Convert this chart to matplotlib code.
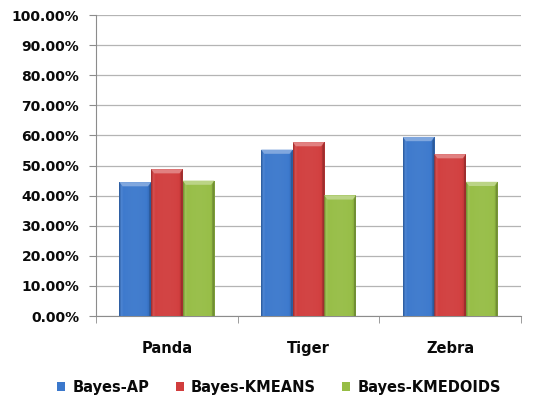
import numpy as np
import matplotlib
matplotlib.use("Agg")
import matplotlib.pyplot as plt
from matplotlib.colors import to_rgb
from matplotlib.patches import Polygon, Patch
from matplotlib.ticker import FixedLocator

categories = ["Panda", "Tiger", "Zebra"]
series_names = ["Bayes-AP", "Bayes-KMEANS", "Bayes-KMEDOIDS"]
bayes_ap = [44.5, 55.3, 59.5]
bayes_kmeans = [48.8, 57.8, 53.8]
bayes_kmedoids = [45.0, 40.1, 44.6]
y_ticks = [0, 10, 20, 30, 40, 50, 60, 70, 80, 90, 100]

series_values = [bayes_ap, bayes_kmeans, bayes_kmedoids]
colors = ["#3b78cc", "#d13d3d", "#96bd45"]

fig = plt.figure(figsize=(5.41, 3.97), dpi=100)
ax = fig.add_axes([0.1775, 0.204, 0.7855, 0.758])

x = np.arange(len(categories))
bar_w = 0.223
offsets = [-bar_w, 0.0, bar_w]


def shade(rgb, f):
    rgb = np.array(rgb)
    if f >= 1:
        return rgb + (1 - rgb) * (f - 1)
    return rgb * f


ax.set_xlim(-0.5, len(categories) - 0.5)
ax.set_ylim(0, 100)

for vals, off, col in zip(series_values, offsets, colors):
    bars = ax.bar(x + off, vals, width=bar_w, color=col, edgecolor="none", zorder=3)
    base = to_rgb(col)
    for b in bars:
        x0, y0, w, h = b.get_x(), b.get_y(), b.get_width(), b.get_height()
        # horizontal shading across the bar face
        t = np.linspace(0, 1, 64)
        prof = np.where(t < 0.04, 0.8,
                        np.where(t < 0.12, 1.1 - 0.6 * (t - 0.04),
                                 np.where(t > 0.88, 1.0 - 1.2 * (t - 0.88),
                                          1.0 + 0.04 * np.sin(np.pi * t))))
        img = np.array([shade(base, f) for f in prof])
        img = np.clip(img, 0, 1)[None, :, :]
        im = ax.imshow(img, extent=[x0, x0 + w, y0, y0 + h], aspect="auto",
                       interpolation="bilinear", zorder=3.1)
        im.set_clip_path(b)
        # lighter bevel along the top edge
        dx = w * 0.1
        dy = 1.4
        top = Polygon([[x0, y0 + h], [x0 + w, y0 + h],
                       [x0 + w - dx, y0 + h - dy], [x0 + dx, y0 + h - dy]],
                      closed=True, facecolor=np.clip(shade(base, 1.35), 0, 1),
                      edgecolor="none", zorder=3.2)
        ax.add_patch(top)
        # darker right edge
        right = Polygon([[x0 + w, y0], [x0 + w, y0 + h],
                         [x0 + w - dx * 0.6, y0 + h - dy], [x0 + w - dx * 0.6, y0]],
                        closed=True, facecolor=shade(base, 0.72),
                        edgecolor="none", zorder=3.2, alpha=0.8)
        ax.add_patch(right)

ax.set_yticks(y_ticks)
ax.set_yticklabels([f"{v:.2f}%" for v in y_ticks])
ax.set_xticks(x)
ax.set_xticklabels(categories)
ax.xaxis.set_minor_locator(FixedLocator(np.arange(len(categories) + 1) - 0.5))

ax.grid(axis="y", color="#b4b4b4", linewidth=0.9, zorder=0)
ax.set_axisbelow(True)
for s in ["top", "right"]:
    ax.spines[s].set_visible(False)
ax.spines["left"].set_color("#8c8c8c")
ax.spines["bottom"].set_color("#8c8c8c")

ax.tick_params(axis="y", length=5, color="#8c8c8c", pad=7, labelsize=10)
ax.tick_params(axis="x", which="major", length=0, pad=18, labelsize=10.5)
ax.tick_params(axis="x", which="minor", length=5, color="#8c8c8c")
for lab in ax.get_yticklabels() + ax.get_xticklabels():
    lab.set_fontweight("bold")
    lab.set_color("#0a0a0a")

handles = [Patch(facecolor=c, edgecolor="none") for c in colors]
leg = fig.legend(handles, series_names, loc="center", bbox_to_anchor=(0.516, 0.025),
                 ncol=3, frameon=False, handlelength=0.55, handleheight=0.55,
                 handletextpad=0.5, columnspacing=1.8,
                 prop={"weight": "bold", "size": 10.5})
for t in leg.get_texts():
    t.set_color("#0a0a0a")

fig.savefig("out.png", dpi=100)
